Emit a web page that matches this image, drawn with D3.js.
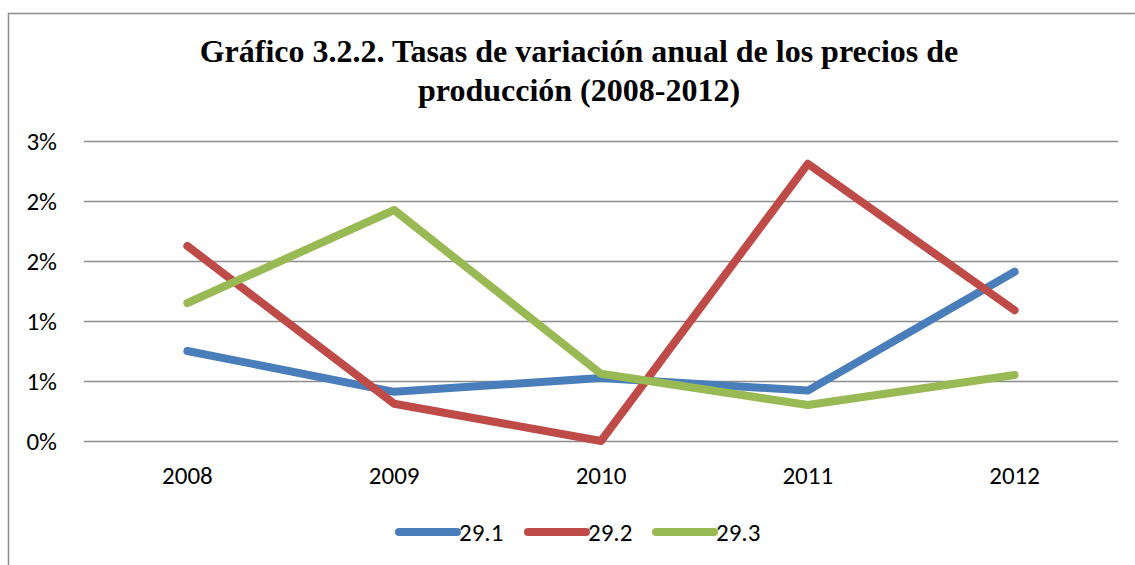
<!DOCTYPE html>
<html>
<head>
<meta charset="utf-8">
<script src="https://cdn.jsdelivr.net/npm/d3@7"></script>
<style>
  body { margin: 0; background: #fff; }
  svg { display: block; }
</style>
</head>
<body>
<div id="chart"></div>
<script>
// data (percent)
var years = ["2008", "2009", "2010", "2011", "2012"];
var s291 = [0.75, 0.41, 0.525, 0.42, 1.41];
var s292 = [1.625, 0.31, 0.0, 2.31, 1.09];
var s293 = [1.15, 1.925, 0.56, 0.30, 0.55];
var yTicks = [0, 0.5, 1, 1.5, 2, 2.5];
var seriesNames = ["29.1", "29.2", "29.3"];
var colors = ["#4a7ebb", "#be4b48", "#98b954"];

var W = 1135, H = 565;
var margin = {top: 141, right: 17, bottom: 124, left: 84},
    width = W - margin.left - margin.right,
    height = H - margin.top - margin.bottom;

var svg = d3.select("#chart")
    .append("svg")
    .attr("width", W)
    .attr("height", H);

// chart frame
svg.append("rect")
    .attr("x", 8.5).attr("y", 13.5)
    .attr("width", 1140).attr("height", 570)
    .attr("fill", "none")
    .attr("stroke", "#8c8c8c")
    .attr("stroke-width", 1.5);

// title
var title = svg.append("text")
    .attr("text-anchor", "middle")
    .style("font-family", "'Liberation Serif', 'Times New Roman', serif")
    .style("font-weight", "bold")
    .style("font-size", "32px")
    .attr("fill", "#000");
title.append("tspan").attr("x", 579).attr("y", 62)
    .text("Gráfico 3.2.2. Tasas de variación anual de los precios de");
title.append("tspan").attr("x", 579).attr("y", 101)
    .text("producción (2008-2012)");

var g = svg.append("g")
    .attr("transform", "translate(" + margin.left + "," + margin.top + ")");

var x = d3.scalePoint()
    .domain(years)
    .range([0, width])
    .padding(0.5);

var y = d3.scaleLinear()
    .domain([0, 2.5])
    .range([height, 0]);

// gridlines
g.append("g")
    .selectAll("line")
    .data(yTicks)
    .enter()
    .append("line")
    .attr("x1", 0).attr("x2", width)
    .attr("y1", function (d) { return Math.round(y(d)) + 0.5; })
    .attr("y2", function (d) { return Math.round(y(d)) + 0.5; })
    .attr("stroke", "#8c8c8c")
    .attr("stroke-width", 1.5);

var labelFont = "Carlito, Calibri, Lato, sans-serif";

// y labels (0 decimals, like the source)
g.append("g")
    .selectAll("text")
    .data(yTicks)
    .enter()
    .append("text")
    .attr("x", -27)
    .attr("y", function (d) { return y(d); })
    .attr("dy", "0.35em")
    .attr("text-anchor", "end")
    .style("font-family", labelFont)
    .style("font-size", "25px")
    .text(function (d) { return Math.round(d + 0.0001) + "%"; });

// x labels
g.append("g")
    .selectAll("text")
    .data(years)
    .enter()
    .append("text")
    .attr("x", function (d) { return x(d); })
    .attr("y", height + 43)
    .attr("text-anchor", "middle")
    .style("font-family", labelFont)
    .style("font-size", "25px")
    .text(function (d) { return d; });

// lines
var allSeries = [s291, s292, s293];
var line = d3.line()
    .x(function (d, i) { return x(years[i]); })
    .y(function (d) { return y(d); });

g.append("g")
    .selectAll("path")
    .data(allSeries)
    .enter()
    .append("path")
    .attr("d", line)
    .attr("fill", "none")
    .attr("stroke", function (d, i) { return colors[i]; })
    .attr("stroke-width", 8)
    .attr("stroke-linecap", "round")
    .attr("stroke-linejoin", "round");

// legend
var legendX = [399, 528, 656];
var leg = svg.append("g")
    .selectAll("g")
    .data(seriesNames)
    .enter()
    .append("g")
    .attr("transform", function (d, i) { return "translate(" + legendX[i] + ",532)"; });
leg.append("line")
    .attr("x1", 0).attr("x2", 58)
    .attr("stroke", function (d, i) { return colors[i]; })
    .attr("stroke-width", 8)
    .attr("stroke-linecap", "round");
leg.append("text")
    .attr("x", 60)
    .attr("dy", "0.35em")
    .style("font-family", labelFont)
    .style("font-size", "25px")
    .text(function (d) { return d; });
</script>
</body>
</html>
